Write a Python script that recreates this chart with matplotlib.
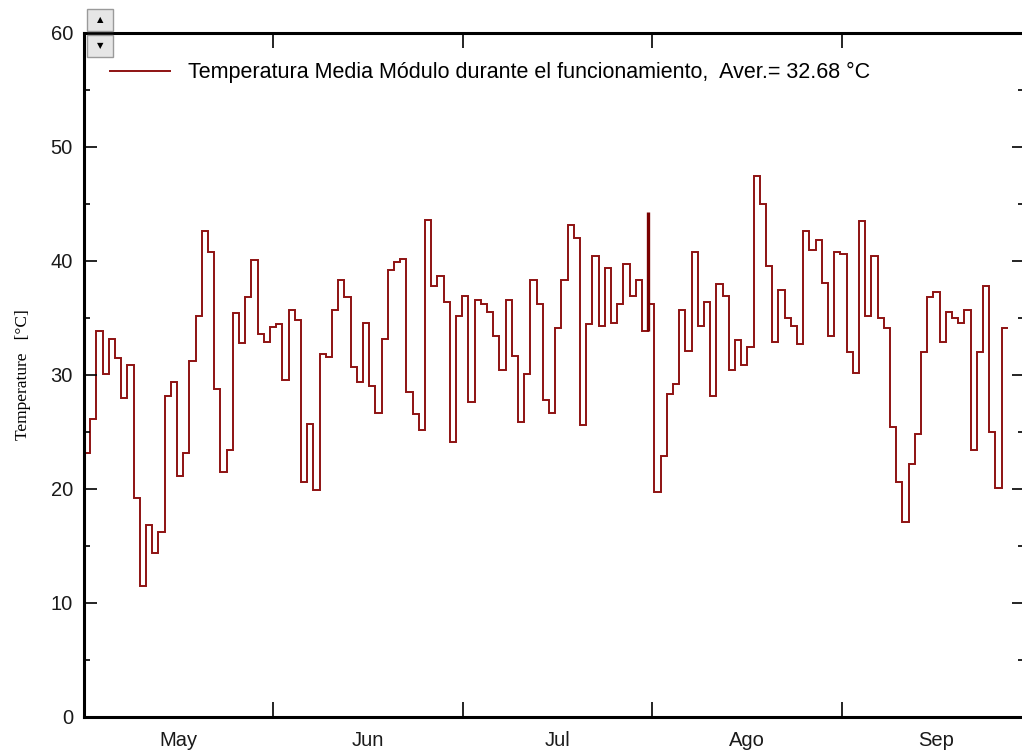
import numpy as np
import matplotlib
matplotlib.use("Agg")
import matplotlib.pyplot as plt
from matplotlib.patches import Rectangle

# daily mean module temperature while operating
temps = [
    23.2, 26.1, 33.9, 30.1, 33.2, 31.5, 28.0, 30.9, 19.2, 11.5,
    16.8, 14.4, 16.2, 28.2, 29.4, 21.1, 23.2, 31.2, 35.2, 42.6,
    40.8, 28.8, 21.5, 23.4, 35.4, 32.8, 36.8, 40.1, 33.6, 32.9,
    34.2, 34.5, 29.6, 35.7, 34.8, 20.6, 25.7, 19.9, 31.8, 31.6,
    35.7, 38.3, 36.8, 30.7, 29.4, 34.6, 29.0, 26.7, 33.2, 39.2,
    39.9, 40.2, 28.5, 26.6, 25.2, 43.6, 37.8, 38.7, 36.4, 24.1,
    35.2, 36.9, 27.6, 36.6, 36.2, 35.5, 33.4, 30.4, 36.6, 31.7,
    25.9, 30.1, 38.3, 36.2, 27.8, 26.7, 34.1, 38.3, 43.2, 42.0,
    25.6, 34.5, 40.4, 34.3, 39.4, 34.6, 36.2, 39.7, 36.9, 38.3,
    33.9, 36.2, 19.7, 22.9, 28.3, 29.2, 35.7, 32.1, 40.8, 34.3,
    36.4, 28.2, 38.0, 36.9, 30.4, 33.1, 30.9, 32.5, 47.5, 45.0,
    39.6, 32.9, 37.5, 35.0, 34.3, 32.7, 42.6, 41.0, 41.8, 38.1,
    33.4, 40.8, 40.6, 32.0, 30.2, 43.5, 35.2, 40.4, 35.0, 34.1,
    25.4, 20.6, 17.1, 22.2, 24.8, 32.0, 36.8, 37.3, 32.9, 35.5,
    35.0, 34.6, 35.7, 23.4, 32.0, 37.8, 25.0, 20.1, 34.1,
]
spike_day = 91
spike_value = 44.3
months = ["May", "Jun", "Jul", "Ago", "Sep"]
month_len = 30.55
label = "Temperatura Media Módulo durante el funcionamiento,  Aver.= 32.68 °C"

W, H = 1022, 751
fig = plt.figure(figsize=(W / 100, H / 100), dpi=100)
ax = fig.add_axes([84 / W, 1 - 717 / H, 940 / W, 684 / H])

red = "#8e1212"
edges = np.arange(len(temps) + 1)
ax.stairs(temps, edges, baseline=None, color=red, lw=1.4, label=label)
ax.vlines(spike_day, temps[spike_day - 1], spike_value, color="#7a0000", lw=2.4)

ax.set_xlim(0, 940 / 6.2)
ax.set_ylim(0, 60)

# month boundaries as ticks, names centred between them
ax.set_xticks([month_len * k for k in range(1, 5)])
ax.set_xticklabels([])
ax.set_xticks([month_len * (k + 0.5) for k in range(5)], minor=True)
ax.set_xticklabels(months, minor=True)
ax.tick_params(axis="x", which="major", direction="in", length=11, width=1.2,
               top=True, bottom=True)
ax.tick_params(axis="x", which="minor", length=0, pad=10, labelsize=14.5)

ax.set_yticks(np.arange(0, 61, 10))
ax.set_yticks(np.arange(0, 61, 5), minor=True)
ax.tick_params(axis="y", which="major", direction="in", length=9, width=1.2,
               left=True, right=True, pad=8, labelsize=14.5)
ax.tick_params(axis="y", which="minor", direction="in", length=4, width=1.2,
               left=True, right=True)

for side in ["left", "bottom", "top"]:
    ax.spines[side].set_linewidth(2.2)
ax.spines["right"].set_linewidth(1.2)

for t in ax.get_xticklabels(minor=True) + ax.get_yticklabels():
    t.set_family("Liberation Sans")
    t.set_color("#1a1a1a")

ax.set_ylabel("Temperature   [°C]", family="Liberation Serif", fontsize=12.5,
              labelpad=14)

leg = ax.legend(loc="upper left", bbox_to_anchor=(26 / 940, (717 - 62) / 684),
                frameon=False, borderpad=0, borderaxespad=0, handlelength=2.8,
                handletextpad=0.8, prop={"family": "Liberation Sans", "size": 15.5})

# small scroll buttons at the top-left corner
for y0, arrow in [(9, "▲"), (35, "▼")]:
    fig.add_artist(Rectangle((87 / W, 1 - (y0 + 22) / H), 26 / W, 22 / H,
                             transform=fig.transFigure, facecolor="#e6e6e6",
                             edgecolor="#9a9a9a", lw=1, zorder=5))
    fig.text(100 / W, 1 - (y0 + 11) / H, arrow, ha="center", va="center",
             fontsize=6, color="black", zorder=6, family="DejaVu Sans")

fig.savefig("out.png", dpi=100)
